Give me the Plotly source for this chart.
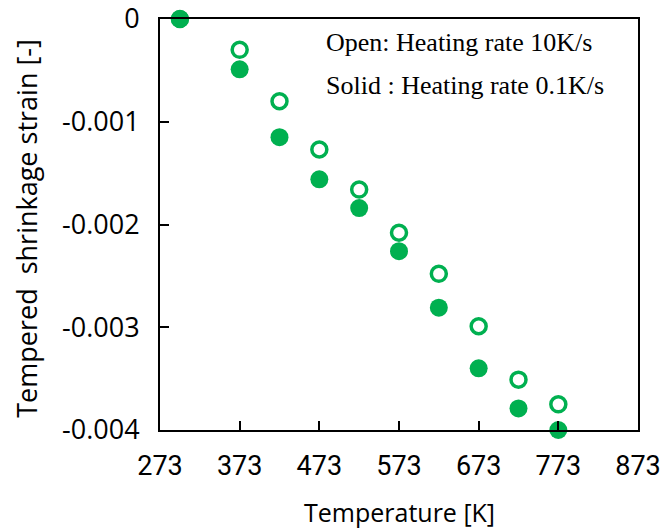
import plotly.graph_objects as go

# Temperature [K]
temp_k = [298, 373, 423, 473, 523, 573, 623, 673, 723, 773]

# Tempered shrinkage strain, heating rate 10 K/s (open markers)
strain_fast = [0.0, -0.00030, -0.00080, -0.00127, -0.00166, -0.00208,
               -0.00248, -0.00299, -0.00351, -0.00375]

# Tempered shrinkage strain, heating rate 0.1 K/s (solid markers)
strain_slow = [0.0, -0.00049, -0.00115, -0.00156, -0.00184, -0.00226,
               -0.00281, -0.00340, -0.00379, -0.00400]

x_ticks = [273, 373, 473, 573, 673, 773, 873]
y_ticks = [0, -0.001, -0.002, -0.003, -0.004]
y_tick_text = ["0", "-0.001", "-0.002", "-0.003", "-0.004"]

green = "#00B050"

fig = go.Figure()
fig.add_trace(go.Scatter(
    x=temp_k, y=strain_fast, mode="markers",
    marker=dict(symbol="circle-open", size=15, color=green,
                line=dict(width=3.5, color=green)),
    showlegend=False, cliponaxis=False,
))
fig.add_trace(go.Scatter(
    x=temp_k, y=strain_slow, mode="markers",
    marker=dict(symbol="circle", size=18, color=green),
    showlegend=False, cliponaxis=False,
))

fig.update_layout(
    template="none",
    width=661, height=530,
    margin=dict(l=160, r=23, t=19, b=100),
    paper_bgcolor="white", plot_bgcolor="white",
)
fig.update_xaxes(
    range=[273, 873], tickvals=x_ticks, ticktext=[str(v) for v in x_ticks],
    automargin=False, ticklabeloverflow="allow",
    showgrid=False, zeroline=False,
    showline=True, linecolor="black", linewidth=2, mirror=True,
    ticks="inside", ticklen=9, tickwidth=2, tickcolor="black",
    ticklabelstandoff=11,
    tickfont=dict(family="Roboto, sans-serif", size=27, color="black"),
)
fig.update_yaxes(
    range=[-0.004, 0], tickvals=y_ticks, ticktext=y_tick_text,
    automargin=False, ticklabeloverflow="allow",
    showgrid=False, zeroline=False,
    showline=True, linecolor="black", linewidth=2, mirror=True,
    ticks="inside", ticklen=9, tickwidth=2, tickcolor="black",
    ticklabelstandoff=13,
    tickfont=dict(family="Open Sans, sans-serif", size=27, color="black"),
)

# Axis titles
fig.add_annotation(
    text="Temperature [K]", xref="paper", yref="paper",
    x=0.5, y=-0.2, yanchor="middle", xanchor="center", showarrow=False,
    font=dict(family="Open Sans, sans-serif", size=25, color="black"),
)
fig.add_annotation(
    text="Tempered  shrinkage strain [-]", xref="paper", yref="paper",
    x=-0.28, y=0.49, xanchor="center", yanchor="middle", textangle=-90,
    showarrow=False,
    font=dict(family="Open Sans, sans-serif", size=27, color="black"),
)

# Marker key
fig.add_annotation(
    text="Open: Heating rate 10K/s", xref="paper", yref="paper",
    x=0.343, y=0.943, xanchor="left", yanchor="middle", showarrow=False,
    font=dict(family="Liberation Serif, Times New Roman, serif", size=26, color="black"),
)
fig.add_annotation(
    text="Solid : Heating rate 0.1K/s", xref="paper", yref="paper",
    x=0.343, y=0.838, xanchor="left", yanchor="middle", showarrow=False,
    font=dict(family="Liberation Serif, Times New Roman, serif", size=26, color="black"),
)

fig.write_html("out.html")
